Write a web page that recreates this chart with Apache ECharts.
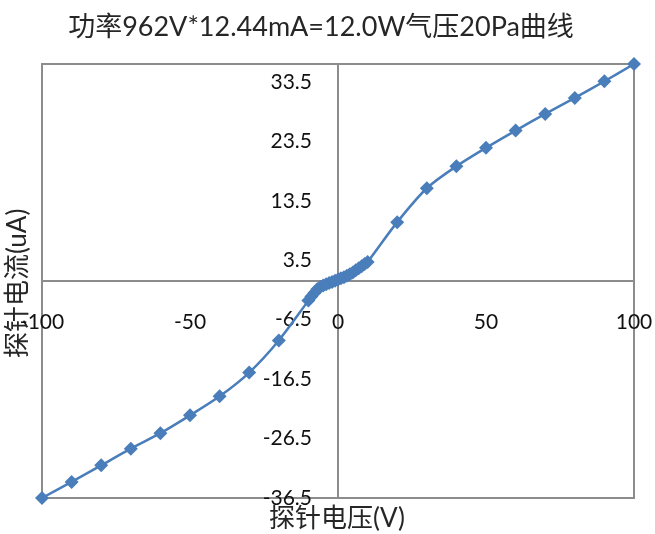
<!DOCTYPE html>
<html>
<head>
<meta charset="utf-8">
<script src="https://cdn.jsdelivr.net/npm/echarts@6/dist/echarts.min.js"></script>
<style>
  html, body { margin: 0; padding: 0; background: #fff; }
  #chart { width: 655px; height: 534px; }
</style>
</head>
<body>
<div id="chart"></div>
<script>
// Probe I-V sweep: probe voltage (V) vs probe current (uA)
const probeVoltage = [
  -100, -90, -80, -70, -60, -50, -40, -30, -20, -10,
  -9, -8, -7, -6, -5, -4, -3, -2, -1, 0,
  1, 2, 3, 4, 5, 6, 7, 8, 9, 10,
  20, 30, 40, 50, 60, 70, 80, 90, 100
];
const probeCurrent = [
  -36.5, -33.8, -31.0, -28.2, -25.6, -22.6, -19.4, -15.4, -10.0, -3.3,
  -2.6, -2.0, -1.4, -1.0, -0.75, -0.55, -0.35, -0.15, 0.05, 0.25,
  0.45, 0.65, 0.9, 1.15, 1.45, 1.8, 2.15, 2.5, 2.85, 3.2,
  9.9, 15.6, 19.3, 22.4, 25.3, 28.1, 30.8, 33.6, 36.5
];
const xTicks = [-100, -50, 0, 50, 100];
const yTicks = [-36.5, -26.5, -16.5, -6.5, 3.5, 13.5, 23.5, 33.5];
const yMax = 36.5;

const titleText = '功率962V*12.44mA=12.0W气压20Pa曲线';
const xName = '探针电压(V)';
const yName = '探针电流(uA)';

const FONT = "Lato, 'Noto Sans CJK SC', sans-serif";
const AXIS_GRAY = '#8c8c8c';
const LINE_BLUE = '#4a7ebb';

// Plot box (px) and the axes crossing through its middle (value 0 on both)
const box = { left: 42, right: 21, top: 64, bottom: 36 };
const W = 655, H = 534;
const plotW = W - box.left - box.right;
const plotH = H - box.top - box.bottom;
const yAxisShift = -plotW * (0 - xTicks[0]) / (xTicks[xTicks.length - 1] - xTicks[0]);
const xAxisShift = -plotH * (0 - yTicks[0]) / (yMax - yTicks[0]);

const points = probeVoltage.map((v, i) => [v, probeCurrent[i]]);

const chart = echarts.init(document.getElementById('chart'), null, { renderer: 'canvas' });
chart.setOption({
  animation: false,
  backgroundColor: '#fff',
  title: {
    text: titleText,
    left: 316,
    top: 9,
    textAlign: 'center',
    textStyle: { fontFamily: FONT, fontSize: 27, fontWeight: 'normal', color: '#262626' }
  },
  grid: {
    left: box.left, right: box.right, top: box.top, bottom: box.bottom,
    outerBoundsMode: 'none',
    containLabel: false,
    show: true, borderColor: AXIS_GRAY, borderWidth: 2, backgroundColor: '#fff'
  },
  xAxis: {
    type: 'value',
    position: 'bottom',
    offset: xAxisShift,
    min: xTicks[0], max: xTicks[xTicks.length - 1], interval: 50,
    axisLine: { onZero: false, lineStyle: { color: AXIS_GRAY, width: 2 } },
    axisTick: { show: false },
    splitLine: { show: false },
    axisLabel: {
      margin: 31,
      hideOverlap: false,
      fontFamily: FONT, fontSize: 21, color: '#111'
    }
  },
  yAxis: {
    type: 'value',
    position: 'left',
    offset: yAxisShift,
    min: yTicks[0], max: yMax, interval: 10,
    axisLine: { onZero: false, lineStyle: { color: AXIS_GRAY, width: 2 } },
    axisTick: { show: false },
    splitLine: { show: false },
    axisLabel: {
      margin: 26,
      showMaxLabel: false,
      hideOverlap: false,
      fontFamily: FONT, fontSize: 21, color: '#111',
      formatter: v => v.toFixed(1)
    }
  },
  graphic: [
    {
      type: 'text', left: 269, top: 506,
      style: { text: xName, fontFamily: FONT, fontSize: 26, fill: '#262626' }
    },
    {
      type: 'text', x: 5, y: 358, rotation: Math.PI / 2,
      style: { text: yName, fontFamily: FONT, fontSize: 26, fill: '#262626' }
    }
  ],
  series: [{
    type: 'line',
    data: points,
    smooth: 0.3,
    symbol: 'diamond',
    symbolSize: 14,
    lineStyle: { color: LINE_BLUE, width: 2.5 },
    itemStyle: { color: LINE_BLUE }
  }]
});
</script>
</body>
</html>
